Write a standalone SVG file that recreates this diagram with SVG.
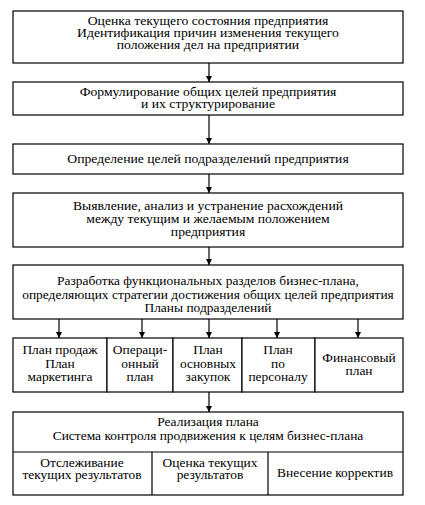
<svg xmlns="http://www.w3.org/2000/svg" width="425" height="505" viewBox="0 0 425 505">
<style>
rect{fill:#fff;stroke:#000;stroke-width:1.2}
line.d{stroke:#000;stroke-width:1.2}
.c line{stroke:#000;stroke-width:1.2;marker-end:url(#ah)}
text{font-family:"Liberation Serif","Times New Roman",serif;font-size:12px;fill:#000;text-anchor:middle}
</style>
<defs>
<marker id="ah" viewBox="0 0 6 10" refX="6" refY="5" markerWidth="6" markerHeight="10" markerUnits="userSpaceOnUse" orient="auto">
<path d="M0,2 L6,5 L0,8 Z" fill="#000"/>
</marker>
</defs>
<rect width="425" height="505" style="stroke:none"/>
<g id="n1"><rect x="13" y="11" width="390" height="52"/>
<g transform="translate(208,0) scale(1.14,1)">
<text x="0" y="25">Оценка текущего состояния предприятия</text>
<text x="0" y="37">Идентификация причин изменения текущего</text>
<text x="0" y="49">положения дел на предприятии</text></g></g>
<g id="n2"><rect x="13" y="82" width="390" height="33"/>
<g transform="translate(208,0) scale(1.14,1)">
<text x="0" y="96">Формулирование общих целей предприятия</text>
<text x="0" y="108">и их структурирование</text></g></g>
<g id="n3"><rect x="13" y="144" width="390" height="30"/>
<g transform="translate(208,0) scale(1.14,1)">
<text x="0" y="163">Определение целей подразделений предприятия</text></g></g>
<g id="n4"><rect x="13" y="193" width="390" height="54"/>
<g transform="translate(208,0) scale(1.14,1)">
<text x="0" y="210">Выявление, анализ и устранение расхождений</text>
<text x="0" y="223">между текущим и желаемым положением</text>
<text x="0" y="236">предприятия</text></g></g>
<g id="n5"><rect x="13" y="265" width="390" height="54"/>
<g transform="translate(208,0) scale(1.12,1)">
<text x="0" y="285">Разработка функциональных разделов бизнес-плана,</text>
<text x="0" y="299">определяющих стратегии достижения общих целей предприятия</text>
<text x="0" y="312">Планы подразделений</text></g></g>
<g id="n6"><rect x="13" y="338" width="94" height="54"/>
<g transform="translate(60,0) scale(1.12,1)">
<text x="0" y="354">План продаж</text><text x="0" y="368">План</text><text x="0" y="381">маркетинга</text></g></g>
<g id="n7"><rect x="107" y="338" width="66" height="54"/>
<g transform="translate(140,0) scale(1.12,1)">
<text x="0" y="354">Операци-</text><text x="0" y="368">онный</text><text x="0" y="381">план</text></g></g>
<g id="n8"><rect x="173" y="338" width="69" height="54"/>
<g transform="translate(208,0) scale(1.12,1)">
<text x="0" y="354">План</text><text x="0" y="368">основных</text><text x="0" y="381">закупок</text></g></g>
<g id="n9"><rect x="242" y="338" width="73" height="54"/>
<g transform="translate(278,0) scale(1.12,1)">
<text x="0" y="354">План</text><text x="0" y="368">по</text><text x="0" y="381">персоналу</text></g></g>
<g id="n10"><rect x="315" y="338" width="88" height="54"/>
<g transform="translate(359,0) scale(1.12,1)">
<text x="0" y="362">Финансовый</text><text x="0" y="375">план</text></g></g>
<g id="n11"><rect x="13" y="412" width="390" height="83"/>
<line class="d" x1="13" y1="452" x2="403" y2="452"/>
<line class="d" x1="152" y1="452" x2="152" y2="495"/>
<line class="d" x1="268" y1="452" x2="268" y2="495"/>
<g transform="translate(208,0) scale(1.12,1)">
<text x="0" y="426">Реализация плана</text>
<text x="0" y="440">Система контроля продвижения к целям бизнес-плана</text></g>
<g transform="translate(82,0) scale(1.12,1)">
<text x="0" y="467">Отслеживание</text><text x="0" y="479">текущих результатов</text></g>
<g transform="translate(210,0) scale(1.12,1)">
<text x="0" y="467">Оценка текущих</text><text x="0" y="479">результатов</text></g>
<g transform="translate(335,0) scale(1.12,1)">
<text x="0" y="477">Внесение корректив</text></g></g>
<g class="c" id="connectors">
<line x1="209" y1="63" x2="209" y2="82"/>
<line x1="209" y1="115" x2="209" y2="144"/>
<line x1="209" y1="174" x2="209" y2="193"/>
<line x1="209" y1="247" x2="209" y2="265"/>
<line x1="59" y1="319" x2="59" y2="338"/>
<line x1="142" y1="319" x2="142" y2="338"/>
<line x1="209" y1="319" x2="209" y2="338"/>
<line x1="277" y1="319" x2="277" y2="338"/>
<line x1="358" y1="319" x2="358" y2="338"/>
<line x1="209" y1="392" x2="209" y2="412"/>
</g>
</svg>
